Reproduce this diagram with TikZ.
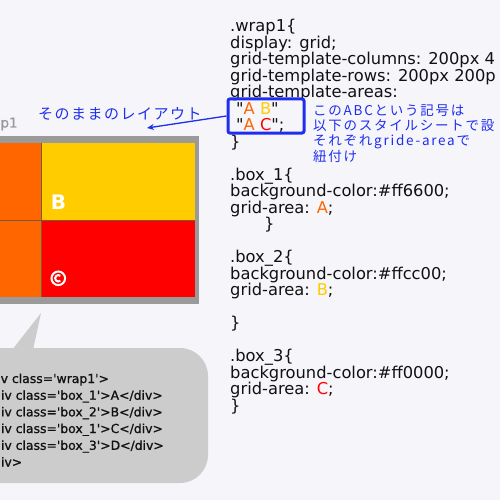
\documentclass[tikz,border=0pt]{standalone}
\usepackage{fontspec}
\usetikzlibrary{arrows.meta}
\newfontfamily\codefont{DejaVu Sans}[Ligatures=TeXOff]
\newfontfamily\htmlfont{DejaVu Sans}[Ligatures=TeXOff, FakeBold=1]
\newfontfamily\jpfont{Noto Sans CJK JP}[LetterSpace=10]
\newfontfamily\jpnote{Noto Sans CJK JP}[LetterSpace=13]
\definecolor{bg}{HTML}{F6F5F9}
\definecolor{cA}{HTML}{FF6600}
\definecolor{cB}{HTML}{FFCC00}
\definecolor{cC}{HTML}{FF0000}
\definecolor{framegray}{HTML}{9A9A9A}
\definecolor{bubblegray}{HTML}{CCCCCC}
\definecolor{note}{HTML}{1E2EF0}
\definecolor{ink}{HTML}{111111}
\definecolor{divider}{HTML}{7A5A3A}
\tikzset{
  codeline/.style={anchor=base west, inner sep=0pt, text=ink,
    font=\codefont\fontsize{16.3}{16.5}\selectfont},
  htmlline/.style={anchor=base west, inner sep=0pt, text=ink,
    font=\htmlfont\fontsize{12.4}{14}\selectfont},
  noteline/.style={anchor=base west, inner sep=0pt, text=note,
    font=\jpnote\fontsize{13.5}{15}\selectfont},
  cellmark/.style={inner sep=0pt, text=white,
    font=\codefont\bfseries\fontsize{20}{20}\selectfont},
}
\begin{document}
\begin{tikzpicture}[x=1pt,y=-1pt]
\useasboundingbox (0,0) rectangle (500,500);
\fill[bg] (0,0) rectangle (500,500);

% ---- grid illustration ----
\fill[framegray] (-10,136) rectangle (199,304);
\fill[cA] (-10,143) rectangle (41,297);
\fill[cB] (41,143) rectangle (195,220.5);
\fill[cC] (41,220.5) rectangle (195,297);
\draw[divider, line width=1pt] (41,143) -- (41,297);
\draw[divider, line width=1pt] (-10,220.5) -- (195,220.5);
\node[cellmark] (markB) at (58.5,202.5) {B};
\draw[white, line width=2pt] (58.3,278.3) circle (6.8);
\draw[white, line width=2pt] (58.3,278.3) ++(50:3.2) arc[start angle=50, end angle=310, radius=3.2];
\node[anchor=base west, inner sep=0pt, text=framegray,
  font=\htmlfont\fontsize{13.5}{14}\selectfont] (gridname) at (0.3,127.5) {p1};

\node[anchor=base west, inner sep=0pt, text=note,
  font=\jpfont\fontsize{15}{16}\selectfont] (layoutlabel) at (38,119) {そのままのレイアウト};

% ---- CSS code ----
\node[codeline] (l0) at (230,31.8) {.wrap1\{};
\node[codeline] (l1) at (230,48.3) {display: grid;};
\node[codeline] (l2) at (230,64.8) {grid-template-columns: 200px 4};
\node[codeline] (l3) at (230,81.3) {grid-template-rows: 200px 200p};
\node[codeline] (l4) at (230,97.8) {grid-template-areas:};
\node[codeline] (l5) at (236,114.3) {"\textcolor{cA}{A} \textcolor{cB}{B}"};
\node[codeline] (l6) at (236,130.8) {"\textcolor{cA}{A} \textcolor{cC}{C}";};
\node[codeline] (l7) at (230,147.3) {\}};
\node[codeline] (l9) at (230,180.3) {.box\_1\{};
\node[codeline] (l10) at (230,196.8) {background-color:\#ff6600;};
\node[codeline] (l11) at (230,213.3) {grid-area: \textcolor{cA}{A};};
\node[codeline] (l12) at (264,229.8) {\}};
\node[codeline] (l14) at (230,262.8) {.box\_2\{};
\node[codeline] (l15) at (230,279.3) {background-color:\#ffcc00;};
\node[codeline] (l16) at (230,295.8) {grid-area: \textcolor{cB}{B};};
\node[codeline] (l18) at (230,328.8) {\}};
\node[codeline] (l20) at (230,361.8) {.box\_3\{};
\node[codeline] (l21) at (230,378.3) {background-color:\#ff0000;};
\node[codeline] (l22) at (230,394.8) {grid-area: \textcolor{cC}{C};};
\node[codeline] (l23) at (230,411.3) {\}};

% ---- annotation ----
\node[draw=note, line width=3pt, rounded corners=2pt, minimum width=76pt,
  minimum height=34pt, inner sep=0pt] (areabox) at (266,116) {};
\coordinate (arrowtip) at (147,128);
\draw[note, line width=1.3pt, -{Stealth[length=7pt,width=6pt]}] (areabox.west) -- (arrowtip);
\node[noteline] (n1) at (313,115) {このABCという記号は};
\node[noteline] (n2) at (313,130.5) {以下のスタイルシートで設};
\node[noteline] (n3) at (313,145.5) {それぞれgride-areaで};
\node[noteline] (n4) at (313,161) {紐付け};

% ---- speech bubble with HTML ----
\fill[bubblegray, rounded corners=28pt] (-40,348) rectangle (208,483);
\fill[bubblegray] (12,350) -- (41,313) -- (33,350) -- cycle;
\node[htmlline] (h1) at (0.5,383) {v class='wrap1'>};
\node[htmlline] (h2) at (0.8,399.7) {iv class='box\_1'>A</div>};
\node[htmlline] (h3) at (0.8,416.4) {iv class='box\_2'>B</div>};
\node[htmlline] (h4) at (0.8,433) {iv class='box\_1'>C</div>};
\node[htmlline] (h5) at (0.8,449.8) {iv class='box\_3'>D</div>};
\node[htmlline] (h6) at (0.8,466.5) {iv>};
\end{tikzpicture}
\end{document}
